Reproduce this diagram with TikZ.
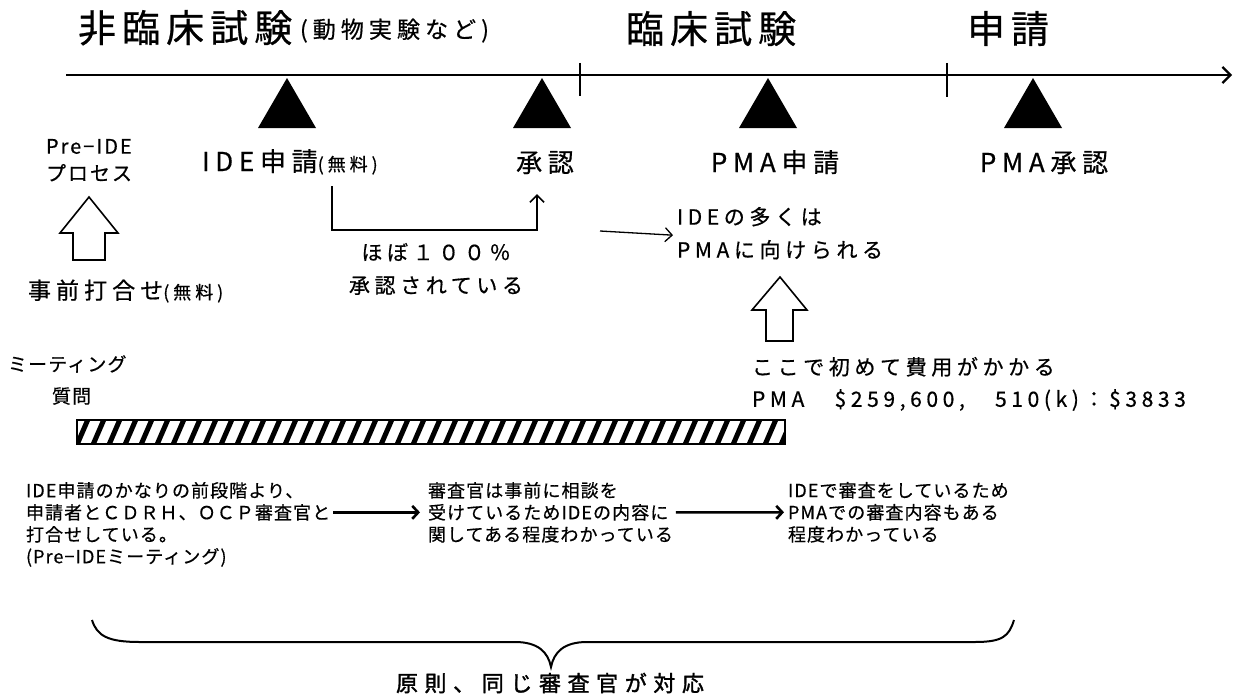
\documentclass[tikz,border=0pt]{standalone}
\usepackage{fontspec}
\setmainfont{Noto Sans CJK JP}
\newfontfamily\fA[FakeBold=0.6,LetterSpace=16]{Noto Sans CJK JP}
\newfontfamily\fB[FakeBold=0.6,LetterSpace=22]{Noto Sans CJK JP}
\newfontfamily\fE[FakeBold=0.6,LetterSpace=10]{Noto Sans CJK JP}
\newfontfamily\fC[FakeBold=0.5,LetterSpace=6]{Noto Sans CJK JP}
\newfontfamily\fD[FakeBold=1.5,LetterSpace=30]{Noto Sans CJK JP}
\usetikzlibrary{arrows.meta,calc}
\begin{document}
\begin{tikzpicture}[x=1pt,y=-1pt,
  txt/.style={inner sep=0pt,outer sep=0pt},
  headtxt/.style={txt,font=\fA\fontsize{38}{40}\selectfont},
  mstone/.style={txt,font=\fB\fontsize{26}{28}\selectfont},
  bodytxt/.style={txt,font=\fB\fontsize{21}{33}\selectfont},
  blk/.style={txt,align=left,font=\fC\fontsize{18}{22}\selectfont},
  conn/.style={line width=1.6pt,-{Straight Barb[length=7pt,width=14pt]}},
  bconn/.style={line width=2.6pt,-{Straight Barb[length=6pt,width=13pt]}},
  hollow/.style={draw,line width=1.6pt,fill=white}]
\useasboundingbox[fill=white] (0,0) rectangle (1236,693);
% titles
\node[headtxt,anchor=base west] (t1) at (78,42) {非臨床試験};
\node[txt,anchor=base west,font=\fB\fontsize{23}{25}\selectfont] (t1b) at (300,38) {(動物実験など)};
\node[headtxt,anchor=base west] (t2) at (626,43) {臨床試験};
\node[headtxt,anchor=base west] (t3) at (967,43) {申請};
% timeline
\coordinate (tl0) at (66,75);
\coordinate (tl1) at (1232,75);
\draw[line width=2.2pt,-{Straight Barb[length=8pt,width=16pt]}] (tl0) -- (tl1);
\draw[line width=2pt] (580,63) -- (580,96);
\draw[line width=2pt] (947,63) -- (947,97);
% triangles
\foreach \cx in {287,542,768,1033}
  \fill (\cx,78) -- (\cx-29,128) -- (\cx+29,128) -- cycle;
% milestone labels
\node[mstone,anchor=base west] (ide) at (202,171) {IDE申請{\fontsize{18}{20}\selectfont(無料)}};
\node[mstone,anchor=base] (appr) at (545,172) {承認};
\node[mstone,anchor=base] (pma) at (775,172) {PMA申請};
\node[mstone,anchor=base] (pmaok) at (1044,172) {PMA承認};
% pre-IDE
\node[txt,font=\fE\fontsize{20}{27}\selectfont,anchor=north west,align=left] (pre) at (46,139) {Pre−IDE\\プロセス};
\node[txt,font=\fB\fontsize{23}{25}\selectfont,anchor=base west] (jizen) at (28,299) {事前打合せ{\fontsize{18}{20}\selectfont(無料)}};
\draw[hollow] (89,197) -- (118,233) -- (105,233) -- (105,260) -- (73,260) -- (73,233) -- (60,233) -- cycle;
% L connector
\coordinate (lstart) at (332,186);
\draw[conn] (lstart) -- ++(0,44) -| ([xshift=-8pt,yshift=-20pt]appr.south);
\node[bodytxt,anchor=north,align=center] (hobo) at (436,243) {ほぼ１００％\\承認されている};
% IDE -> PMA
\node[bodytxt,anchor=north west,align=left] (many) at (677,207) {IDEの多くは\\PMAに向けられる};
\coordinate (a2s) at (600,231);
\draw[conn,line width=1.3pt] (a2s) -- ([xshift=-4pt,yshift=-2pt]many.west);
\draw[hollow] (780,277) -- (807,310) -- (793,310) -- (793,341) -- (766,341) -- (766,310) -- (752,310) -- cycle;
\node[txt,font=\fB\fontsize{21}{32}\selectfont,anchor=north west,align=left] (cost) at (752,357) {ここで初めて費用がかかる\\PMA　\$259,600,　510(k)：\$3833};
% meeting
\node[txt,anchor=west,font=\fC\fontsize{19}{22}\selectfont] (meet) at (8,364) {ミーティング};
\node[txt,anchor=west,font=\fC\fontsize{19}{22}\selectfont] (q) at (52,396) {質問};
\begin{scope}
\clip (77,420) rectangle (785,444);
\foreach \i in {60,76,...,800}
  \draw[line width=5pt] (\i,447) -- (\i+13,417);
\end{scope}
\draw[line width=1.6pt] (77,420) rectangle (785,444);
% blocks
\node[blk,anchor=north west] (b1) at (26,482) {IDE申請のかなりの前段階より、\\申請者とＣＤＲＨ、ＯＣＰ審査官と\\打合せしている。\\(Pre−IDEミーティング)};
\node[blk,anchor=north west] (b2) at (428,482) {審査官は事前に相談を\\受けているためIDEの内容に\\関してある程度わかっている};
\node[blk,anchor=north west] (b3) at (788,482) {IDEで審査をしているため\\PMAでの審査内容もある\\程度わかっている};
\draw[bconn] ($(b1.east |- b2.west)+(3,0)$) -- ([xshift=-8pt]b2.west);
\draw[bconn] ([xshift=3pt]b2.east) -- ([xshift=-4pt]b3.west);
% brace
\draw[line width=2pt] (92,620) .. controls (97,636) and (108,642) .. (140,642)
  -- (515,642) .. controls (538,642) and (548,652) .. (551,667)
  .. controls (554,652) and (564,642) .. (587,642)
  -- (975,642) .. controls (1003,642) and (1009,636) .. (1014,620);
\node[txt,anchor=center,font=\fD\fontsize{22}{24}\selectfont] (rule) at (550,683) {原則、同じ審査官が対応};
\end{tikzpicture}
\end{document}
